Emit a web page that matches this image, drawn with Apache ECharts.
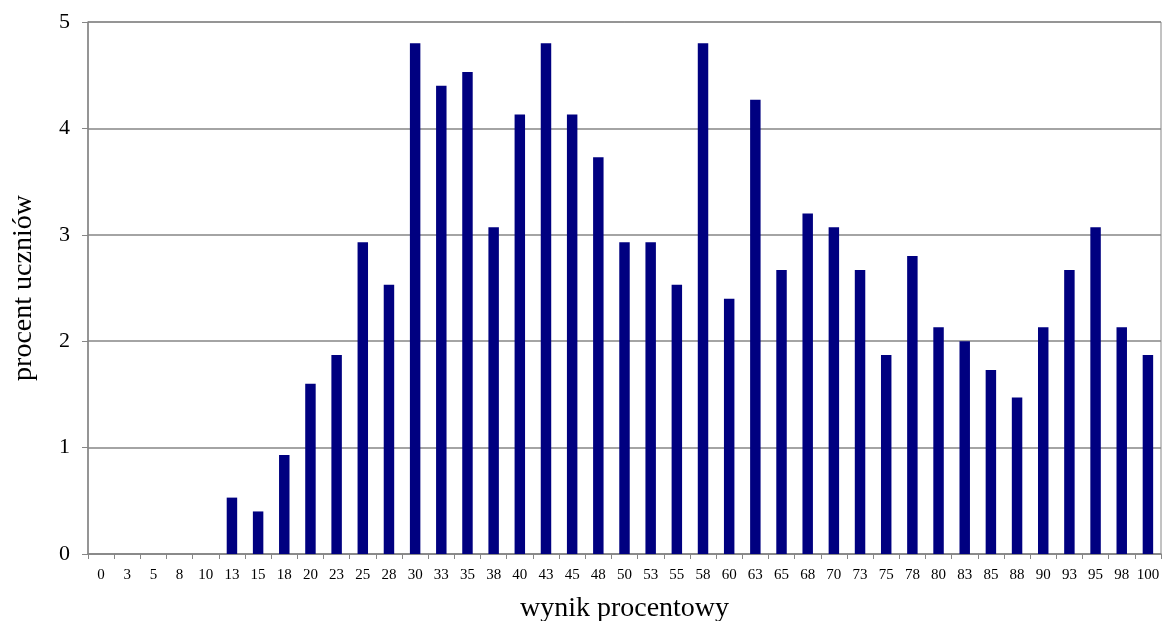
<!DOCTYPE html>
<html>
<head>
<meta charset="utf-8">
<script src="https://cdn.jsdelivr.net/npm/echarts@6/dist/echarts.min.js"></script>
<style>html,body{margin:0;padding:0;background:#fff;}#chart{width:1163px;height:621px;}</style>
</head>
<body>
<div id="chart"></div>
<script>
const categories = ['0','3','5','8','10','13','15','18','20','23','25','28','30','33','35','38','40','43','45','48','50','53','55','58','60','63','65','68','70','73','75','78','80','83','85','88','90','93','95','98','100'];
const values = [0,0,0,0,0,0.53,0.40,0.93,1.60,1.87,2.93,2.53,4.80,4.40,4.53,3.07,4.13,4.80,4.13,3.73,2.93,2.93,2.53,4.80,2.40,4.27,2.67,3.20,3.07,2.67,1.87,2.80,2.13,2.00,1.73,1.47,2.13,2.67,3.07,2.13,1.87];
const yTicks = [0,1,2,3,4,5];
const xTitle = 'wynik procentowy';
const yTitle = 'procent uczniów';

const font = '"Liberation Serif", "DejaVu Serif", serif';
const chart = echarts.init(document.getElementById('chart'));
chart.setOption({
  animation: false,
  backgroundColor: '#fff',
  grid: { left: 88, right: 2, top: 22, bottom: 67, containLabel: false, outerBoundsMode: 'none', show: true, borderColor: '#868686', borderWidth: 1 },
  xAxis: {
    type: 'category',
    data: categories,
    name: xTitle,
    nameLocation: 'middle',
    nameGap: 41,
    nameTextStyle: { fontFamily: font, fontSize: 28, color: '#000' },
    axisLine: { lineStyle: { color: '#868686', width: 1.5 } },
    axisTick: { show: true, length: 5, lineStyle: { color: '#868686' } },
    axisLabel: { fontFamily: font, fontSize: 15, color: '#000', margin: 14, interval: 0 }
  },
  yAxis: {
    type: 'value',
    min: yTicks[0],
    max: yTicks[yTicks.length - 1],
    interval: 1,
    name: yTitle,
    nameLocation: 'middle',
    nameGap: 50,
    nameTextStyle: { fontFamily: font, fontSize: 28, color: '#000' },
    axisLine: { show: true, lineStyle: { color: '#868686', width: 1.5 } },
    axisTick: { show: true, length: 6, lineStyle: { color: '#868686' } },
    axisLabel: { fontFamily: font, fontSize: 22, color: '#000', margin: 18 },
    splitLine: { show: true, lineStyle: { color: '#868686', width: 1.5 } }
  },
  series: [{
    type: 'bar',
    data: values,
    barWidth: '40%',
    itemStyle: { color: '#000080' }
  }]
});
</script>
</body>
</html>
